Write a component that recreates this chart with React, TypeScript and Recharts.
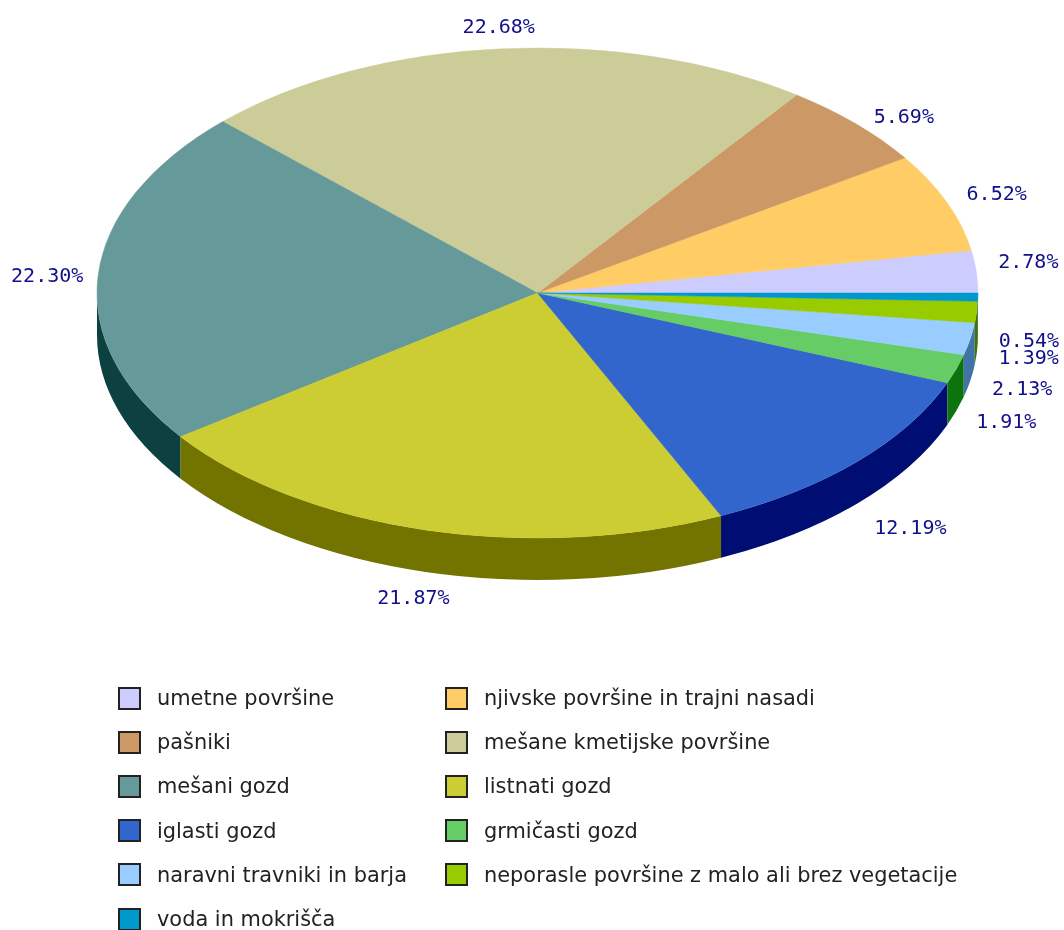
import { PieChart, Pie, Cell, Legend } from 'recharts';

const categories = [
  'umetne površine',
  'njivske površine in trajni nasadi',
  'pašniki',
  'mešane kmetijske površine',
  'mešani gozd',
  'listnati gozd',
  'iglasti gozd',
  'grmičasti gozd',
  'naravni travniki in barja',
  'neporasle površine z malo ali brez vegetacije',
  'voda in mokrišča',
];
const shares = [2.78, 6.52, 5.69, 22.68, 22.3, 21.87, 12.19, 1.91, 2.13, 1.39, 0.54];
const topColors = ['#CCCCFF', '#FFCC66', '#CC9966', '#CCCC99', '#669999', '#CCCC33', '#3366CC', '#66CC66', '#99CCFF', '#99CC00', '#0099CC'];
const sideColors = ['#7373A6', '#A67300', '#734000', '#737340', '#0D4040', '#737300', '#000D73', '#0D730D', '#4073A6', '#407300', '#004073'];

// label offset from the rim point of each slice
const labelOffsets = [
  [52, -11], [50, -9], [48, -8], [-2, -23], [-51, 0], [-12, 67],
  [53, 66], [50, 52], [52, 49], [52, 45], [51, 43],
];

const data = categories.map((name, i) => ({ name, value: shares[i] }));

const W = 1064;
const H = 930;
const CX = 537.5;
const CY = 293;
const RX = 440.5;
const RY = 245;
const DEPTH = 42;

const pt = (deg: number, dy = 0) => {
  const a = (deg * Math.PI) / 180;
  return [CX + RX * Math.cos(a), CY - RY * Math.sin(a) + dy];
};

// pie drawn as an ellipse with a wall under the front half
function Slice3D(props: any) {
  const { startAngle, endAngle, fill, index } = props;
  const [x0, y0] = pt(startAngle);
  const [x1, y1] = pt(endAngle);
  const large = endAngle - startAngle > 180 ? 1 : 0;
  const top = `M${CX},${CY}L${x0},${y0}A${RX},${RY} 0 ${large} 0 ${x1},${y1}Z`;

  const from = Math.max(startAngle, 180);
  const to = Math.min(endAngle, 360);
  let wall = '';
  if (to > from) {
    const [ax, ay] = pt(from);
    const [bx, by] = pt(to);
    const [cx2, cy2] = pt(to, DEPTH);
    const [dx, dy] = pt(from, DEPTH);
    wall = `M${ax},${ay}A${RX},${RY} 0 0 0 ${bx},${by}L${cx2},${cy2}A${RX},${RY} 0 0 1 ${dx},${dy}Z`;
  }
  return (
    <g>
      {wall && <path d={wall} fill={sideColors[index]} />}
      <path d={top} fill={fill} stroke={fill} strokeWidth={0.5} />
    </g>
  );
}

function renderLabel(props: any) {
  const { midAngle, index, value } = props;
  const [x, y] = pt(midAngle);
  const [dx, dy] = labelOffsets[index];
  return (
    <text
      key={index}
      x={x + dx}
      y={y + dy}
      textAnchor="middle"
      dominantBaseline="central"
      fontFamily="'DejaVu Sans Mono', monospace"
      fontSize={20}
      fill="#10108C"
    >
      {value.toFixed(2)}%
    </text>
  );
}

function LegendGrid({ payload }: any) {
  return (
    <div style={{ display: 'grid', gridTemplateColumns: '327px 1fr', gridAutoRows: '44.2px', paddingLeft: 118 }}>
      {(payload || []).map((entry: any) => (
        <div key={entry.value} style={{ display: 'flex', alignItems: 'center', fontFamily: "'DejaVu Sans', sans-serif", fontSize: 20.9, color: '#222' }}>
          <span style={{ width: 19, height: 19, border: '2px solid #222', background: entry.color, marginRight: 16, flexShrink: 0 }} />
          <span style={{ whiteSpace: 'nowrap' }}>{entry.value}</span>
        </div>
      ))}
    </div>
  );
}

export default function App() {
  return (
    <div style={{ position: 'absolute', left: 0, top: 0, width: W, height: H, filter: 'blur(0.6px)' }}>
      <PieChart width={W} height={H} margin={{ top: 0, right: 0, bottom: 0, left: 0 }}>
        <Pie
          data={data}
          dataKey="value"
          nameKey="name"
          cx={CX}
          cy={CY}
          outerRadius={RX}
          startAngle={0}
          endAngle={360}
          paddingAngle={0}
          stroke="none"
          shape={Slice3D}
          label={renderLabel}
          labelLine={false}
          isAnimationActive={false}
        >
          {data.map((d, i) => (
            <Cell key={d.name} fill={topColors[i]} />
          ))}
        </Pie>
        <Legend itemSorter={null} content={<LegendGrid />} wrapperStyle={{ left: 0, top: 676, width: W, bottom: 'auto' }} />
      </PieChart>
    </div>
  );
}
